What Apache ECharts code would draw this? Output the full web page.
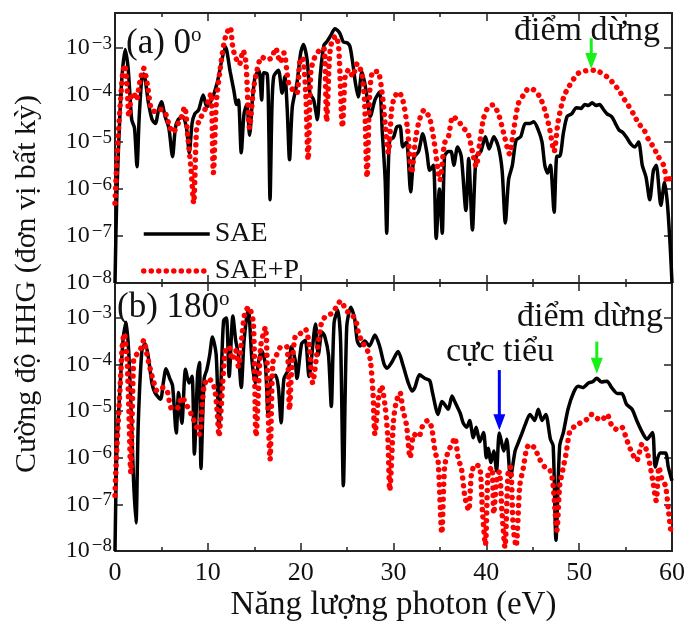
<!DOCTYPE html>
<html><head><meta charset="utf-8">
<script src="https://cdn.jsdelivr.net/npm/echarts@6/dist/echarts.min.js"></script>
<style>html,body{margin:0;padding:0;background:#fff}#c{width:686px;height:623px}</style>
</head><body><div id="c"></div>
<script>
// ---- data (photon energy eV, HHG intensity arb. units) ----
const xMin = 0, xMax = 60, xStep = 10;
const yMin = 1e-8, yMax = 5.6e-3;

// (a) 0 deg, SAE
const saeA = [[0,1e-8],[0.2,8.1e-7],[0.55,4.8e-5],[0.8,3.2e-4],[1.1,9.3e-4],[1.4,4.0e-4],[1.6,1.1e-4],[1.8,3.0e-5],[2.1,2.0e-5],[2.37,3.0e-6],[2.6,3.2e-5],[2.9,2.5e-4],[3.1,2.8e-4],[3.6,6.8e-5],[4.0,3.0e-5],[4.35,2.5e-5],[4.7,5.0e-5],[5.0,7.2e-5],[5.4,3.5e-5],[5.8,2.0e-5],[6.2,4.9e-6],[6.5,2.0e-5],[6.8,3.0e-5],[7.3,3.5e-5],[7.7,2.0e-5],[8.0,5.9e-6],[8.3,2.5e-5],[8.6,4.0e-5],[9.0,4.8e-5],[9.5,1.0e-4],[9.9,5.6e-5],[10.4,7.9e-5],[11.0,1.8e-4],[11.5,5.5e-4],[11.9,1.07e-3],[12.4,3.2e-4],[12.8,1.26e-4],[13.1,6.3e-5],[13.3,7.9e-5],[13.6,5.9e-6],[13.9,4.0e-5],[14.2,6.3e-5],[14.5,1.4e-5],[14.8,7.9e-5],[15.1,2.5e-4],[15.5,3.4e-4],[15.8,7.9e-5],[16.0,3.0e-4],[16.4,2.8e-4],[16.55,3.2e-5],[16.7,5.9e-7],[16.9,5.0e-5],[17.1,2.5e-4],[17.6,3.4e-4],[18.0,1.1e-4],[18.3,2.5e-4],[18.55,5.0e-5],[18.8,4.2e-6],[19.1,5.6e-5],[19.6,1.8e-4],[20.0,7.9e-4],[20.3,1.2e-3],[20.7,5.5e-4],[21.0,1.1e-4],[21.4,7.9e-5],[21.8,3.0e-5],[22.1,2.5e-4],[22.5,1.15e-3],[22.8,1.35e-3],[23.2,1.8e-3],[23.7,2.6e-3],[24.2,2.1e-3],[24.6,1.35e-3],[25.0,1.3e-3],[25.3,1.1e-3],[25.6,5.0e-4],[25.9,1.8e-4],[26.2,9.1e-5],[26.6,3.2e-4],[26.9,1.8e-4],[27.2,7.9e-5],[27.5,3.5e-5],[28.0,7.9e-5],[28.5,1.17e-4],[28.8,1.55e-5],[29.1,1.6e-6],[29.27,1.15e-7],[29.45,3.2e-6],[29.6,1.1e-5],[30.0,1.26e-5],[30.35,2.1e-5],[30.7,2.2e-5],[31.0,7.9e-6],[31.4,1.0e-5],[31.85,8.7e-7],[32.2,4.7e-6],[32.7,6.3e-6],[33.15,1.5e-5],[33.6,5.9e-6],[33.9,2.5e-6],[34.3,3.2e-6],[34.6,8.9e-8],[34.95,1.0e-6],[35.25,1.15e-7],[35.5,5.0e-6],[35.9,6.3e-6],[36.2,6.3e-6],[36.5,3.2e-6],[36.9,7.9e-6],[37.3,5.0e-6],[37.8,3.5e-7],[38.1,4.5e-6],[38.5,1.35e-7],[38.9,5.0e-6],[39.4,6.3e-6],[39.9,1.3e-5],[40.3,7.1e-6],[40.8,1.3e-5],[41.3,7.9e-6],[41.7,2.5e-6],[42.05,1.9e-7],[42.4,1.6e-6],[42.8,3.2e-6],[43.2,1.1e-5],[43.7,1.3e-5],[44.2,2.5e-5],[44.7,2.5e-5],[45.1,2.7e-5],[45.6,1.8e-5],[46.0,1.0e-5],[46.3,3.2e-6],[46.6,2.2e-6],[46.9,3.2e-6],[47.3,3.2e-7],[47.6,5.0e-6],[47.9,5.0e-6],[48.3,1.55e-5],[48.7,3.5e-5],[49.2,4.0e-5],[49.7,5.4e-5],[50.2,5.2e-5],[50.6,6.3e-5],[51.0,6.0e-5],[51.4,6.9e-5],[51.8,6.0e-5],[52.2,6.3e-5],[52.6,5.0e-5],[53.0,4.0e-5],[53.5,3.5e-5],[53.9,2.5e-5],[54.3,1.8e-5],[54.7,1.6e-5],[55.1,1.26e-5],[55.6,8.9e-6],[56.0,7.9e-6],[56.4,1.0e-5],[56.8,3.2e-6],[57.2,1.8e-6],[57.6,5.9e-7],[58.0,2.5e-6],[58.3,3.2e-6],[58.8,4.5e-7],[59.2,1.4e-6],[59.5,5.0e-7],[59.8,6.3e-8],[60.0,1e-8]];

// (a) 0 deg, SAE+P
const saepA = [[0,5.0e-7],[0.3,1.0e-5],[0.6,7.9e-5],[0.85,3.2e-4],[1.05,4.4e-4],[1.3,1.6e-4],[1.5,3.5e-5],[1.75,1.0e-4],[2.0,1.1e-4],[2.3,7.9e-5],[2.7,2.0e-4],[3.1,3.7e-4],[3.5,1.6e-4],[3.9,5.0e-5],[4.3,4.5e-5],[4.8,5.0e-5],[5.35,4.5e-5],[5.9,2.1e-5],[6.25,1.6e-5],[6.8,2.5e-5],[7.1,3.2e-5],[7.5,5.6e-5],[7.85,1.26e-5],[8.2,2.5e-6],[8.47,5.0e-7],[8.8,2.0e-5],[9.2,3.2e-5],[9.7,5.0e-5],[10.1,7.9e-5],[10.35,1.1e-4],[10.6,2.2e-6],[10.9,6.3e-5],[11.3,3.2e-4],[11.7,1.15e-3],[12.0,2.0e-3],[12.4,2.8e-3],[12.7,1.0e-3],[13.0,6.3e-4],[13.4,4.5e-4],[13.8,8.9e-4],[14.1,5.0e-4],[14.5,2.0e-5],[14.9,1.26e-4],[15.3,3.4e-4],[15.8,6.5e-4],[16.4,5.6e-4],[16.9,6.3e-4],[17.3,1.0e-3],[17.8,5.0e-4],[18.2,7.9e-4],[18.7,1.8e-4],[19.2,1.26e-4],[19.6,1.1e-4],[19.9,5.0e-4],[20.2,6.3e-4],[20.55,1.1e-4],[20.8,4.2e-6],[21.1,3.2e-4],[21.5,6.3e-4],[22.0,8.9e-4],[22.5,1.0e-3],[22.8,2.75e-5],[23.1,6.3e-4],[23.4,1.5e-3],[23.8,1.8e-3],[24.1,1.0e-3],[24.5,2.1e-5],[24.8,2.5e-4],[25.2,3.5e-4],[25.6,2.5e-4],[26.1,4.7e-4],[26.6,2.8e-4],[26.9,6.3e-5],[27.15,1.8e-6],[27.45,1.26e-4],[27.8,3.2e-4],[28.3,3.2e-4],[28.8,1.0e-4],[29.1,2.5e-5],[29.45,5.9e-6],[29.8,5.0e-5],[30.1,8.9e-5],[30.55,1.17e-4],[31.0,7.9e-5],[31.5,2.0e-5],[31.95,2.2e-6],[32.4,1.26e-5],[32.8,3.0e-5],[33.3,4.8e-5],[33.9,3.2e-5],[34.4,9.5e-6],[35.0,1.55e-6],[35.5,9.5e-6],[35.9,1.26e-5],[36.4,3.5e-5],[37.0,2.8e-5],[37.5,2.0e-5],[38.0,1.6e-5],[38.5,6.3e-6],[38.9,3.0e-6],[39.3,1.0e-5],[39.7,3.2e-5],[40.2,5.6e-5],[40.7,6.2e-5],[41.3,4.0e-5],[41.85,1.6e-5],[42.5,5.6e-6],[42.9,1.6e-5],[43.45,6.6e-5],[44.0,1.0e-4],[44.6,1.4e-4],[45.2,1.26e-4],[45.8,8.9e-5],[46.3,4.8e-5],[46.8,2.0e-5],[47.3,6.3e-6],[47.7,2.5e-5],[48.0,5.0e-5],[48.4,1.0e-4],[48.8,1.4e-4],[49.4,2.2e-4],[49.9,2.9e-4],[50.5,3.2e-4],[51.0,3.4e-4],[51.6,3.4e-4],[52.1,3.2e-4],[52.6,2.75e-4],[53.2,2.3e-4],[53.7,1.75e-4],[54.3,1.26e-4],[54.8,8.5e-5],[55.3,6.0e-5],[55.9,3.8e-5],[56.4,2.5e-5],[57.0,1.8e-5],[57.5,1.1e-5],[58.0,7.9e-6],[58.5,5.0e-6],[59.1,3.2e-6],[59.5,1.4e-6],[59.9,2.0e-6]];

// (b) 180 deg, SAE
const saeB = [[0,1e-8],[0.2,1.5e-6],[0.57,4.0e-5],[0.9,3.9e-4],[1.2,8.1e-4],[1.47,2.0e-4],[1.76,7.8e-6],[2.0,3.2e-7],[2.26,4.0e-8],[2.5,5.0e-6],[2.9,2.0e-4],[3.26,2.8e-4],[3.6,1.4e-4],[3.98,4.0e-5],[4.3,2.5e-5],[4.9,1.8e-5],[5.2,4.0e-5],[5.5,8.1e-5],[5.9,5.0e-5],[6.2,3.5e-5],[6.6,3.4e-6],[6.85,2.5e-5],[7.2,5.5e-6],[7.6,7.9e-5],[7.97,4.0e-5],[8.3,5.6e-5],[8.55,1.2e-6],[8.9,6.3e-5],[9.1,1.1e-4],[9.26,5.9e-7],[9.6,5.0e-5],[9.9,7.9e-5],[10.2,1.6e-4],[10.5,3.9e-4],[10.9,1.6e-4],[11.2,4.5e-6],[11.45,6.3e-5],[11.7,8.7e-4],[12.0,1.0e-3],[12.3,5.5e-5],[12.7,1.1e-3],[13.0,3.3e-4],[13.3,1.6e-4],[13.6,3.2e-5],[13.9,3.2e-4],[14.35,1.6e-3],[14.76,1.2e-4],[15.1,4.0e-5],[15.5,1.26e-4],[15.8,2.0e-4],[16.2,1.0e-4],[16.5,7.8e-6],[16.8,5.0e-5],[17.3,5.9e-5],[17.6,3.2e-5],[17.9,5.6e-6],[18.2,5.0e-5],[18.7,7.9e-5],[19.0,2.4e-4],[19.4,1.26e-4],[19.6,5.0e-5],[20.1,2.8e-4],[20.5,3.3e-4],[20.9,5.5e-5],[21.6,7.4e-4],[21.9,1.6e-4],[22.3,5.0e-4],[22.6,4.0e-4],[23.0,1.6e-4],[23.3,1.26e-5],[23.6,7.9e-4],[24.0,1.45e-3],[24.3,3.2e-4],[24.6,2.5e-7],[24.96,6.3e-4],[25.4,1.7e-3],[25.8,1.0e-3],[26.1,3.2e-4],[26.4,2.5e-4],[26.9,3.2e-4],[27.4,2.5e-4],[28.0,4.3e-4],[28.5,2.5e-4],[29.0,1.0e-4],[29.3,8.3e-5],[29.8,1.1e-4],[30.5,1.9e-4],[31.0,1.0e-4],[31.6,4.0e-5],[32.0,2.7e-5],[32.3,3.2e-5],[32.8,6.0e-5],[33.4,5.0e-5],[33.9,4.5e-5],[34.2,2.5e-5],[34.8,8.5e-6],[35.2,1.6e-5],[35.5,1.4e-5],[35.9,1.1e-5],[36.3,2.1e-5],[36.6,1.6e-5],[37.2,8.9e-6],[37.5,5.6e-6],[37.9,4.5e-6],[38.2,6.3e-6],[38.6,2.7e-6],[38.9,4.5e-6],[39.3,2.2e-6],[39.7,3.5e-6],[40.0,1.0e-6],[40.2,1.6e-6],[40.5,7.9e-7],[40.8,1.4e-6],[41.1,5.2e-7],[41.4,3.4e-6],[41.9,1.4e-6],[42.2,2.5e-6],[42.6,3.8e-7],[43.1,1.4e-6],[43.4,2.0e-6],[43.8,3.2e-6],[44.2,5.2e-6],[44.7,8.5e-6],[45.2,6.3e-6],[45.6,1.1e-5],[46.0,6.3e-6],[46.4,8.5e-6],[46.9,2.5e-6],[47.2,1.8e-6],[47.5,1.7e-8],[47.9,1.8e-6],[48.3,3.5e-6],[48.8,1.1e-5],[49.4,2.5e-5],[49.9,3.4e-5],[50.4,3.2e-5],[51.0,4.0e-5],[51.5,4.3e-5],[51.9,5.1e-5],[52.4,4.2e-5],[53.0,4.4e-5],[53.5,3.2e-5],[54.1,2.4e-5],[54.6,2.4e-5],[55.1,1.4e-5],[55.7,1.1e-5],[56.2,6.3e-6],[56.8,3.5e-6],[57.3,2.5e-6],[57.9,3.5e-6],[58.2,6.3e-7],[58.7,1.26e-6],[59.3,1.26e-6],[59.6,6.3e-7],[60.0,3.2e-7]];

// (b) 180 deg, SAE+P
const saepB = [[0,1.55e-7],[0.2,1.6e-6],[0.57,4.0e-5],[0.8,2.8e-4],[1.0,4.6e-4],[1.3,1.26e-4],[1.5,1.0e-5],[1.7,4.8e-7],[2.0,1.2e-4],[2.3,1.6e-4],[2.7,2.0e-4],[3.1,3.3e-4],[3.4,1.8e-4],[3.8,7.9e-5],[4.2,4.0e-5],[4.5,2.75e-5],[5.1,3.2e-5],[5.6,2.75e-5],[6.1,1.15e-5],[6.7,1.15e-5],[7.2,2.0e-5],[7.8,1.26e-5],[8.3,7.9e-6],[8.9,4.0e-6],[9.1,3.2e-6],[9.6,3.5e-5],[10.1,5.0e-5],[10.7,3.2e-5],[11.0,1.0e-5],[11.2,2.9e-6],[11.6,4.0e-5],[11.9,2.0e-4],[12.3,2.4e-4],[12.6,1.26e-4],[13.0,2.0e-4],[13.3,8.9e-5],[13.7,4.6e-4],[14.0,1.3e-3],[14.4,1.7e-3],[14.9,7.9e-4],[15.2,2.9e-6],[15.7,2.5e-4],[16.2,6.3e-4],[16.5,1.0e-5],[16.7,9.1e-7],[17.0,1.1e-4],[17.4,1.6e-4],[17.9,2.4e-4],[18.5,2.4e-4],[18.8,1.07e-5],[19.0,6.3e-5],[19.4,3.9e-4],[19.9,4.5e-4],[20.5,5.75e-4],[20.9,2.8e-4],[21.3,4.0e-5],[21.7,1.4e-4],[22.2,7.1e-4],[22.7,1.1e-3],[23.4,1.26e-3],[23.9,1.8e-3],[24.3,2.3e-3],[24.96,1.4e-3],[25.5,1.2e-3],[26.0,7.9e-4],[26.2,5.0e-4],[26.6,3.1e-4],[27.1,2.2e-4],[27.5,1.26e-4],[27.8,2.3e-5],[28.0,3.2e-6],[28.4,2.0e-5],[28.7,3.5e-5],[29.1,1.26e-5],[29.4,2.5e-6],[29.6,2.0e-7],[30.0,6.3e-6],[30.3,1.6e-5],[30.7,2.5e-5],[31.0,1.1e-5],[31.4,5.0e-6],[31.8,1.0e-6],[32.2,3.2e-6],[32.7,2.8e-6],[33.2,5.2e-6],[33.7,6.3e-6],[34.1,4.5e-6],[34.5,1.26e-6],[34.8,8.9e-7],[35.2,2.4e-8],[35.5,6.3e-7],[35.9,1.4e-6],[36.3,1.95e-6],[36.6,2.7e-6],[37.0,8.9e-7],[37.3,6.3e-7],[37.7,1.4e-7],[38.1,7.4e-8],[38.4,4.5e-7],[38.8,7.1e-7],[39.3,6.3e-7],[39.6,6.3e-8],[39.9,1.35e-8],[40.2,5.0e-7],[40.6,6.2e-7],[40.8,6.3e-8],[41.1,3.2e-7],[41.4,5.0e-7],[41.7,6.3e-8],[42.0,1.2e-8],[42.35,5.0e-7],[42.6,6.3e-7],[42.9,3.2e-8],[43.2,1.26e-8],[43.6,2.5e-7],[44.0,6.3e-7],[44.35,1.6e-6],[44.7,1.95e-6],[45.2,1.6e-6],[45.8,8.9e-7],[46.3,6.3e-7],[46.9,5.2e-7],[47.2,2.5e-7],[47.6,2.8e-8],[47.9,2.5e-7],[48.3,6.3e-7],[48.6,1.26e-6],[49.0,3.7e-6],[49.5,4.7e-6],[50.1,5.6e-6],[50.8,6.6e-6],[51.3,8.5e-6],[51.9,7.1e-6],[52.4,6.3e-6],[53.0,8.5e-6],[53.5,5.0e-6],[54.1,4.0e-6],[54.6,4.5e-6],[55.1,2.5e-6],[55.7,1.26e-6],[56.2,8.7e-7],[56.8,2.0e-6],[57.3,1.4e-6],[57.9,3.5e-7],[58.3,1.2e-7],[58.6,6.3e-7],[58.9,3.5e-7],[59.3,2.5e-7],[59.6,7.9e-8],[59.9,2.4e-8]];

// annotation arrows: [panel, energy, tail value, tip value, colour]
const arrows = [
  [0, 51.3, 1.62e-3, 3.6e-4, '#19f019'],
  [1, 51.9, 3.1e-4, 6.3e-5, '#19f019'],
  [1, 41.4, 7.6e-5, 3.9e-6, '#0000ff']
];

// ---- chart ----
const FONT = "'Liberation Serif','Times New Roman',serif";
const axisLineStyle = {color:'#222', width:2};

function xAx(grid, pos, showLabel){
  return {gridIndex:grid, type:'value', min:xMin, max:xMax, interval:xStep, position:pos,
    axisLine:{show:true, onZero:false, lineStyle:axisLineStyle},
    axisTick:{show:true, inside:true, length:8, lineStyle:{color:'#222', width:1.5}},
    minorTick:{show:true, splitNumber:2, length:4, lineStyle:{color:'#222', width:1.5}},
    splitLine:{show:false},
    axisLabel:{show:showLabel, fontFamily:FONT, fontSize:26, color:'#111', margin:9}};
}
function supLabel(v){
  const e = Math.log10(v), r = Math.round(e);
  if (Math.abs(e - r) > 0.01) return '';
  return '{b|10}{s|\u2212' + (-r) + '}';
}
function yAx(grid, pos, showLabel){
  return {gridIndex:grid, type:'log', logBase:10, min:yMin, max:yMax, position:pos,
    axisLine:{show:true, onZero:false, lineStyle:axisLineStyle},
    axisTick:{show:true, inside:true, length:8, lineStyle:{color:'#222', width:1.5}},
    splitLine:{show:false},
    axisLabel:{show:showLabel, formatter:supLabel, margin:3, color:'#111',
      rich:{b:{fontFamily:FONT, fontSize:24, color:'#111', lineHeight:28},
            s:{fontFamily:FONT, fontSize:19, color:'#111', verticalAlign:'top', lineHeight:28, padding:[0,0,12,2]}}}};
}

const blackStyle = {color:'#000', width:3.5};
const redStyle = {color:'#ff0000', width:5.5, type:[0.01, 7.5], cap:'round'};

const chart = echarts.init(document.getElementById('c'), null, {renderer:'canvas'});
chart.setOption({
  animation:false,
  backgroundColor:'#fff',
  grid:[{left:115, top:13, width:557, height:270, outerBoundsMode:'none'},
        {left:115, top:283, width:557, height:268, outerBoundsMode:'none'}],
  xAxis:[xAx(0,'bottom',false), xAx(0,'top',false),
         Object.assign(xAx(1,'bottom',true), {name:'Năng lượng photon (eV)', nameLocation:'middle', nameGap:38,
           nameTextStyle:{fontFamily:FONT, fontSize:33, color:'#111'}}),
         xAx(1,'top',false)],
  yAxis:[yAx(0,'left',true), yAx(0,'right',false), yAx(1,'left',true), yAx(1,'right',false)],
  legend:{show:true, orient:'vertical', left:136, top:215, itemWidth:66, itemHeight:20, itemGap:9,
    data:['SAE','SAE+P'], textStyle:{fontFamily:FONT, fontSize:28, color:'#111', lineHeight:22},
    itemStyle:{opacity:0, borderWidth:0},
    lineStyle:{width:'inherit', type:'inherit', cap:'inherit'},
    selectedMode:false},
  series:[
    {name:'SAE', type:'line', xAxisIndex:0, yAxisIndex:0, data:saeA, symbol:'none', smooth:0.25, lineStyle:blackStyle, itemStyle:{color:'#000'}, z:2},
    {name:'SAE+P', type:'line', xAxisIndex:0, yAxisIndex:0, data:saepA, symbol:'none', smooth:0.25, lineStyle:redStyle, itemStyle:{color:'#ff0000'}, z:3},
    {name:'SAE', type:'line', xAxisIndex:2, yAxisIndex:2, data:saeB, symbol:'none', smooth:0.25, lineStyle:blackStyle, itemStyle:{color:'#000'}, z:2},
    {name:'SAE+P', type:'line', xAxisIndex:2, yAxisIndex:2, data:saepB, symbol:'none', smooth:0.25, lineStyle:redStyle, itemStyle:{color:'#ff0000'}, z:3}
  ],
  graphic:{elements:[
    {id:'ytitle', type:'text', x:27, y:284, rotation:Math.PI/2, style:{text:'Cường độ HHG (đơn vị bất kỳ)', fontFamily:FONT, fontSize:30, fill:'#111', align:'center', verticalAlign:'middle'}},
    {id:'ta', type:'text', x:126, y:44, style:{text:'(a) 0{s|o}', fontFamily:FONT, fontSize:35, fill:'#111', verticalAlign:'middle',
      rich:{s:{fontFamily:FONT, fontSize:21, fill:'#111', verticalAlign:'top', lineHeight:38}}}},
    {id:'tb', type:'text', x:117, y:308, style:{text:'(b) 180{s|o}', fontFamily:FONT, fontSize:35, fill:'#111', verticalAlign:'middle',
      rich:{s:{fontFamily:FONT, fontSize:21, fill:'#111', verticalAlign:'top', lineHeight:38}}}},
    {id:'d1', type:'text', x:514, y:31, style:{text:'điểm dừng', fontFamily:FONT, fontSize:34, fill:'#111', verticalAlign:'middle'}},
    {id:'d2', type:'text', x:517, y:317, style:{text:'điểm dừng', fontFamily:FONT, fontSize:34, fill:'#111', verticalAlign:'middle'}},
    {id:'ct', type:'text', x:446, y:352, style:{text:'cực tiểu', fontFamily:FONT, fontSize:34, fill:'#111', verticalAlign:'middle'}}
  ]}
});

// arrows placed through the axes' own scales
const arrowGraphics = [];
arrows.forEach(function(a, i){
  const finder = {xAxisIndex: a[0]*2, yAxisIndex: a[0]*2};
  const p0 = chart.convertToPixel(finder, [a[1], a[2]]);
  const p1 = chart.convertToPixel(finder, [a[1], a[3]]);
  const headH = 16, headW = 12;
  arrowGraphics.push({id:'al'+i, type:'line', silent:true, z:100, shape:{x1:p0[0], y1:p0[1], x2:p1[0], y2:p1[1]-headH+2},
    style:{stroke:a[4], lineWidth:3}});
  arrowGraphics.push({id:'ah'+i, type:'polygon', silent:true, z:100,
    shape:{points:[[p1[0]-headW/2, p1[1]-headH],[p1[0]+headW/2, p1[1]-headH],[p1[0], p1[1]]]},
    style:{fill:a[4]}});
});
chart.setOption({graphic:{elements:arrowGraphics}});
</script>
</body></html>
